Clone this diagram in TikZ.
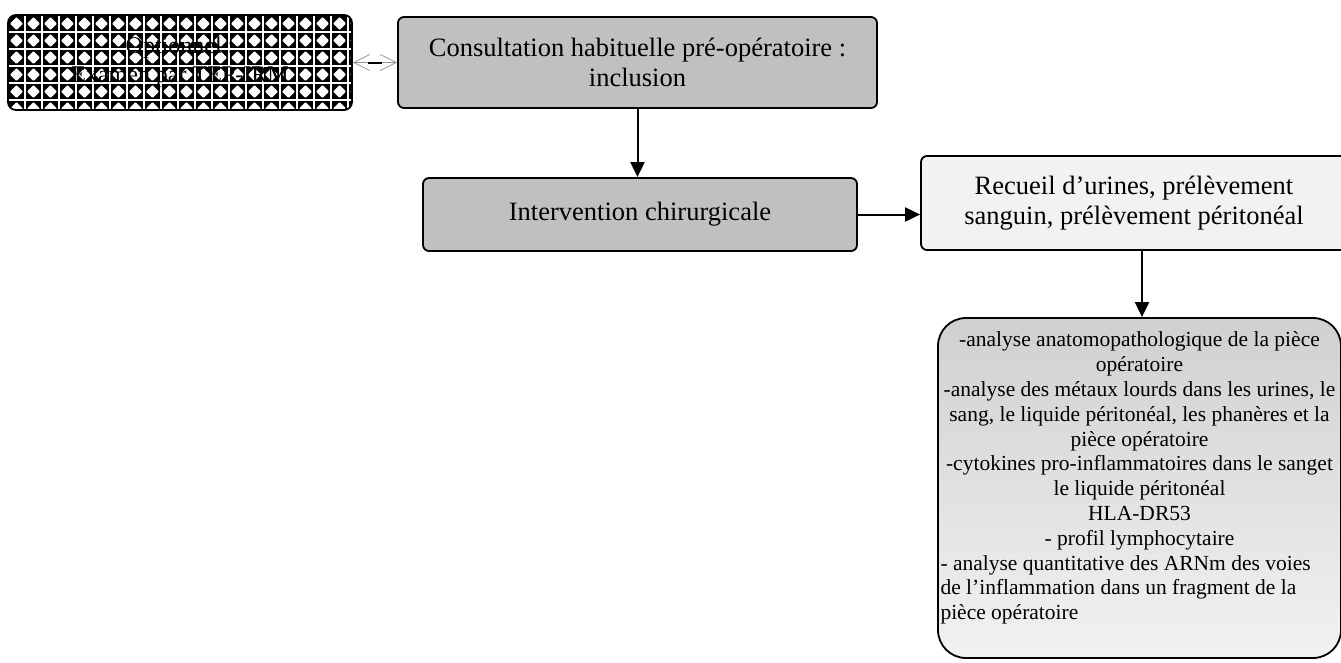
\documentclass[tikz,border=0pt]{standalone}
\usepackage{fontspec}
\setmainfont{Liberation Serif}
\usetikzlibrary{arrows.meta,calc}
\definecolor{boxgray}{RGB}{192,192,192}
\definecolor{lightbox}{RGB}{242,242,242}
\definecolor{gradtop}{RGB}{208,208,208}
\definecolor{gradbot}{RGB}{242,242,242}
\definecolor{arrgray}{RGB}{150,150,150}
\begin{document}
\begin{tikzpicture}[x=1pt,y=-1pt,
  box/.style={draw=black, line width=1.8pt, rounded corners=6pt, align=center, inner sep=0pt, font=\fontsize{26.5}{30}\selectfont},
  arr/.style={draw=black, line width=2pt, -{Triangle[length=15pt,width=14pt]}},
  biarr/.style={draw=arrgray, line width=0.8pt, {Straight Barb[length=16pt,width=16pt]}-{Straight Barb[length=16pt,width=16pt]}},
]
\useasboundingbox (0,0) rectangle (1341,662);
\clip (0,0) rectangle (1341,662);

% patterned optional box
\begin{scope}
\clip[rounded corners=8pt] (8,15) rectangle (352,110);
\fill[white] (8,15) rectangle (352,110);
\foreach \i in {0,...,20} {
  \foreach \j in {0,...,5} {
    \fill[black] ({8+17*\i+0.8},{15+17*\j+0.8}) rectangle +(15.4,15.4);
    \fill[white, rounded corners=0.8pt] ({8+17*\i+8.5},{15+17*\j+2}) -- ++(6.5,6.5) -- ++(-6.5,6.5) -- ++(-6.5,-6.5) -- cycle;
  }
}
\end{scope}
\node[draw=black, line width=1.8pt, rounded corners=8pt, minimum width=344pt, minimum height=95pt, inner sep=0pt, align=center, font=\fontsize{24}{29}\selectfont] (opt) at (180,62.5) {Optionnel :\\Examen par TEP-IRM};

\node[box, fill=boxgray, minimum width=479pt, minimum height=91pt] (cons) at (637.5,62.5) {Consultation habituelle pré-opératoire :\\inclusion};
\node[box, fill=boxgray, minimum width=434pt, minimum height=73pt] (int) at (640,214.5) {Intervention chirurgicale};
\node[box, fill=lightbox, minimum width=426pt, minimum height=94pt] (rec) at (1134,203) {Recueil d’urines, prélèvement\\sanguin, prélèvement péritonéal};

\node[draw=black, line width=1.8pt, rounded corners=28pt, top color=gradtop, bottom color=gradbot, minimum width=403pt, minimum height=340pt, inner sep=0pt] (res) at (1139.5,488) {\parbox[c][340pt][t]{398pt}{\fontsize{21.5}{24.8}\selectfont\vspace*{14pt}%
{\centering -analyse anatomopathologique de la pièce\\opératoire\\-analyse des métaux lourds dans les urines, le\\sang, le liquide péritonéal, les phanères et la\\pièce opératoire\\-cytokines pro-inflammatoires dans le sanget\\le liquide péritonéal\\HLA-DR53\\- profil lymphocytaire\par}%
{\raggedright - analyse quantitative des ARNm des voies\\de l’inflammation dans un fragment de la\\pièce opératoire\par}}};

% connectors
\draw[biarr] (opt.east) -- (cons.west);
\draw[black, line width=2pt] ($(opt.east)!0.35!(cons.west)$) -- ($(opt.east)!0.65!(cons.west)$);
\draw[arr] (cons.south) -- (cons.south |- int.north);
\draw[arr] (int.east) -- (int.east -| rec.west);
\coordinate (a) at ($(rec.south)+(8,0)$);
\draw[arr] (a) -- (a |- res.north);
\end{tikzpicture}
\end{document}
